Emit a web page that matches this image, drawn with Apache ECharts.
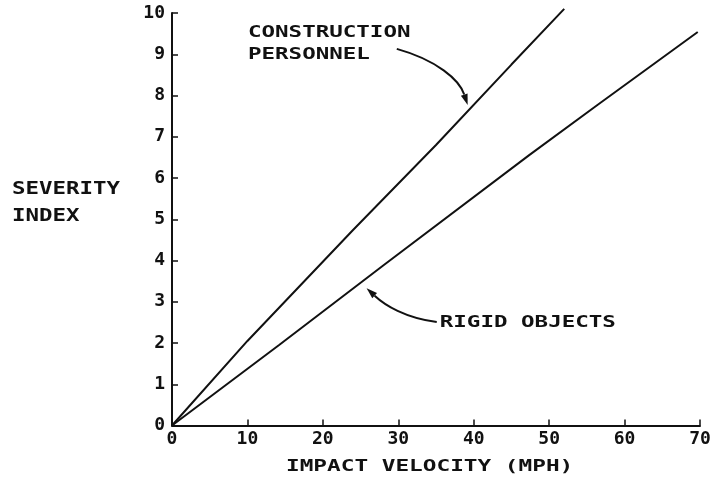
<!DOCTYPE html>
<html>
<head>
<meta charset="utf-8">
<script src="https://cdn.jsdelivr.net/npm/echarts@6/dist/echarts.min.js"></script>
<style>
  html, body { margin: 0; padding: 0; background: #fff; }
  #chart { width: 717px; height: 481px; }
</style>
</head>
<body>
<div id="chart"></div>
<script>
// values (mph, severity index)
const constructionPersonnel = [[0, 0], [10, 2.05], [24, 4.74], [35, 6.8], [45, 8.75], [52, 10.1]];
const rigidObjects = [[0, 0], [14.2, 1.95], [28, 3.88], [47.4, 6.56], [56.4, 7.77], [69.7, 9.54]];
const xRange = [0, 70];
const yRange = [0, 10];

const FONT = '"DejaVu Sans Mono", monospace';
const INK = '#111';

let myChart = echarts.init(document.getElementById("chart"));

myChart.setOption({
  animation: false,
  backgroundColor: '#fff',
  grid: { left: 172, right: 17, top: 13, bottom: 55.5 },
  xAxis: {
    type: 'value',
    min: xRange[0],
    max: xRange[1],
    interval: 10,
    splitLine: { show: false },
    axisLine: { lineStyle: { color: INK, width: 2 } },
    axisTick: { inside: true, length: 6, lineStyle: { color: INK, width: 1.5 } },
    axisLabel: { color: INK, fontFamily: FONT, fontSize: 18, fontWeight: 'bold', margin: 5 },
  },
  yAxis: {
    type: 'value',
    min: yRange[0],
    max: yRange[1],
    interval: 1,
    splitLine: { show: false },
    axisLine: { lineStyle: { color: INK, width: 2 } },
    axisTick: { inside: true, length: 6, lineStyle: { color: INK, width: 1.5 } },
    axisLabel: { color: INK, fontFamily: FONT, fontSize: 18, fontWeight: 'bold', margin: 7 },
  },
  series: [
    {
      name: 'CONSTRUCTION PERSONNEL',
      type: 'line',
      data: constructionPersonnel,
      showSymbol: false,
      clip: false,
      lineStyle: { color: INK, width: 2 },
    },
    {
      name: 'RIGID OBJECTS',
      type: 'line',
      data: rigidObjects,
      showSymbol: false,
      clip: false,
      lineStyle: { color: INK, width: 2 },
    },
  ],
});

// annotations, anchored in data coordinates
function px(p) {
  return myChart.convertToPixel({ gridIndex: 0 }, p);
}

function arrow(pts) {
  const [s, c1, c2, e] = pts.map(px);
  let dx = e[0] - c2[0], dy = e[1] - c2[1];
  const len = Math.sqrt(dx * dx + dy * dy);
  dx /= len; dy /= len;
  const bx = e[0] - dx * 11, by = e[1] - dy * 11;
  return [
    {
      type: 'bezierCurve',
      shape: { x1: s[0], y1: s[1], cpx1: c1[0], cpy1: c1[1], cpx2: c2[0], cpy2: c2[1], x2: bx, y2: by },
      style: { stroke: INK, lineWidth: 2, fill: null },
    },
    {
      type: 'polygon',
      shape: { points: [e, [bx - dy * 3.5, by + dx * 3.5], [bx + dy * 3.5, by - dx * 3.5]] },
      style: { fill: INK },
    },
  ];
}

function label(text, pos, scaleX, size) {
  return {
    type: 'text',
    x: pos[0],
    y: pos[1],
    scaleX: scaleX,
    style: { text: text, fontFamily: FONT, fontSize: size, fontWeight: 'bold', fill: INK, verticalAlign: 'middle' },
  };
}

const graphics = [
  label('CONSTRUCTION', px([10.07, 9.52]), 1.5, 15),
  label('PERSONNEL', px([10.07, 8.98]), 1.5, 15),
  label('RIGID OBJECTS', px([35.5, 2.48]), 1.5, 15),
  label('SEVERITY', [12, 190], 1.32, 17),
  label('INDEX', [12, 217], 1.32, 17),
  label('IMPACT VELOCITY (MPH)', [286, 467], 1.42, 16),
]
  .concat(arrow([[29.8, 9.13], [35.1, 8.86], [38.1, 8.38], [39.2, 7.77]]))
  .concat(arrow([[35.1, 2.51], [30.9, 2.61], [28.2, 2.92], [25.8, 3.33]]));

myChart.setOption({ graphic: graphics });
</script>
</body>
</html>
